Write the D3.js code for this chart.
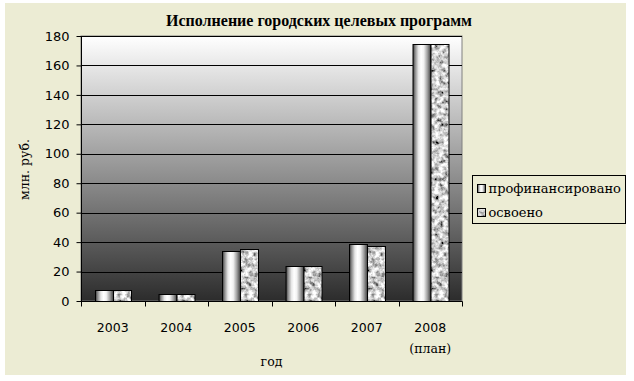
<!DOCTYPE html>
<html><head><meta charset="utf-8">
<script src="https://cdn.jsdelivr.net/npm/d3@7"></script>
<style>html,body{margin:0;padding:0;background:#fff;}svg{display:block;}</style>
</head><body>
<script>
const title = "Исполнение городских целевых программ";
const categories = ["2003","2004","2005","2006","2007","2008"];
const categorySubLabels = ["","","","","","(план)"];
const seriesNames = ["профинансировано","освоено"];
const financed = [7.3, 4.5, 33.7, 23.8, 38.5, 174.5];
const mastered = [7.3, 4.5, 35.1, 23.8, 37.3, 174.5];
const yTicks = [0,20,40,60,80,100,120,140,160,180];
const yTitle = "млн. руб.";
const xTitle = "год";

const W = 634, H = 381;
const plot = {l:81, r:462, t:36, b:301};
const svg = d3.select("body").append("svg").attr("width",W).attr("height",H);
const defs = svg.append("defs");

// cylinder gradient
const cyl = defs.append("linearGradient").attr("id","cyl").attr("x1","0").attr("x2","1").attr("y1","0").attr("y2","0");
[[0,"#3a3a3a"],[0.12,"#8c8c8c"],[0.3,"#e6e6e6"],[0.45,"#ffffff"],[0.6,"#f2f2f2"],[0.8,"#a0a0a0"],[1,"#3c3c3c"]]
  .forEach(([o,c])=>cyl.append("stop").attr("offset",o).attr("stop-color",c));
// plot background gradient
const bg = defs.append("linearGradient").attr("id","bgGrad").attr("x1","0").attr("x2","0").attr("y1","0").attr("y2","1");
[[0,"#ffffff"],[1,"#2c2c2c"]].forEach(([o,c])=>bg.append("stop").attr("offset",o).attr("stop-color",c));
// granite texture
const f = defs.append("filter").attr("id","granite").attr("x",0).attr("y",0).attr("width",1).attr("height",1)
  .attr("filterUnits","objectBoundingBox").attr("primitiveUnits","userSpaceOnUse");
f.append("feTurbulence").attr("type","fractalNoise").attr("baseFrequency","0.22").attr("numOctaves",3).attr("seed",7).attr("result","n");
f.append("feColorMatrix").attr("in","n").attr("type","matrix")
  .attr("values","1.9 0 0 0 -0.33  1.9 0 0 0 -0.33  1.9 0 0 0 -0.33  0 0 0 0 1").attr("result","g");
f.append("feComposite").attr("in","g").attr("in2","SourceAlpha").attr("operator","in");

// chart background
svg.append("rect").attr("x",5).attr("y",3).attr("width",621).attr("height",372).attr("fill","#ECECD4");

const y = d3.scaleLinear().domain([0,180]).range([plot.b, plot.t]);
const x0 = d3.scaleBand().domain(categories).range([plot.l, plot.r]).paddingInner(0).paddingOuter(0);
const barW = x0.bandwidth()/3.5;
const x1 = d3.scaleBand().domain(seriesNames).range([barW*0.75, barW*2.75]).padding(0);

// plot area
svg.append("rect").attr("x",plot.l).attr("y",plot.t).attr("width",plot.r-plot.l).attr("height",plot.b-plot.t)
  .attr("fill","url(#bgGrad)").attr("stroke","#808080").attr("stroke-width",1);

// gridlines
svg.append("g").selectAll("line").data(yTicks.filter(d=>d>0)).join("line")
  .attr("x1",plot.l).attr("x2",plot.r).attr("y1",d=>Math.round(y(d))+0.5).attr("y2",d=>Math.round(y(d))+0.5)
  .attr("stroke","#000").attr("stroke-width",1);

// bars
const data = categories.map((c,i)=>({c, vals:[financed[i], mastered[i]]}));
const groups = svg.append("g").selectAll("g").data(data).join("g").attr("transform",d=>`translate(${x0(d.c)},0)`);
groups.each(function(d){
  const g = d3.select(this);
  seriesNames.forEach((s,k)=>{
    const v = d.vals[k];
    const bx = Math.round(x1(s))+0.5, by = Math.round(y(v))+0.5, bw = Math.round(barW), bh = Math.round(y(0))-Math.round(y(v));
    if(k===0){
      g.append("rect").attr("x",bx).attr("y",by).attr("width",bw).attr("height",bh).attr("fill","url(#cyl)");
    } else {
      g.append("rect").attr("x",bx).attr("y",by).attr("width",bw).attr("height",bh).attr("fill","#000").attr("filter","url(#granite)");
    }
    g.append("rect").attr("x",bx).attr("y",by).attr("width",bw).attr("height",bh).attr("fill","none").attr("stroke","#000").attr("stroke-width",1);
  });
});

// axes
const yAxis = d3.axisLeft(y).tickValues(yTicks).tickSize(5).tickPadding(7);
const ya = svg.append("g").attr("transform",`translate(${plot.l+0.5},0)`).call(yAxis);
ya.select(".domain").attr("stroke","#000").attr("d",`M0,${plot.t}V${plot.b+0.5}`);
ya.selectAll(".tick line").attr("stroke","#000");
ya.selectAll("text").attr("font-family","DejaVu Sans").attr("font-size",13).attr("fill","#000");

const xa = svg.append("g").attr("transform",`translate(0,${plot.b+0.5})`);
xa.append("line").attr("x1",plot.l).attr("x2",plot.r+0.5).attr("stroke","#000");
xa.selectAll(".tk").data(categories.concat(["end"])).join("line").attr("class","tk")
  .attr("x1",(d,i)=>Math.round(plot.l + i*x0.bandwidth())+0.5).attr("x2",(d,i)=>Math.round(plot.l + i*x0.bandwidth())+0.5)
  .attr("y1",0).attr("y2",5).attr("stroke","#000");
xa.selectAll(".lbl").data(categories).join("text").attr("class","lbl")
  .attr("x",d=>x0(d)+x0.bandwidth()/2).attr("y",30).attr("text-anchor","middle")
  .attr("font-family","DejaVu Sans").attr("font-size",12.5).text(d=>d);
xa.selectAll(".sub").data(categories).join("text").attr("class","sub")
  .attr("x",d=>x0(d)+x0.bandwidth()/2).attr("y",51).attr("text-anchor","middle")
  .attr("font-family","DejaVu Serif").attr("font-size",12.5).text((d,i)=>categorySubLabels[i]);

// titles
svg.append("text").attr("x",319).attr("y",26).attr("text-anchor","middle")
  .attr("font-family","Liberation Serif").attr("font-weight","bold").attr("font-size",16).text(title);
svg.append("text").attr("x",(plot.l+plot.r)/2).attr("y",366).attr("text-anchor","middle")
  .attr("font-family","DejaVu Serif").attr("font-size",12.5).text(xTitle);
svg.append("text").attr("transform",`translate(29,${(plot.t+plot.b)/2+1}) rotate(-90)`).attr("text-anchor","middle")
  .attr("font-family","DejaVu Serif").attr("font-size",12.5).text(yTitle);

// legend
const lg = svg.append("g").attr("transform","translate(472.5,175.5)");
lg.append("rect").attr("width",153).attr("height",48).attr("fill","#ECECD4").attr("stroke","#000");
seriesNames.forEach((s,k)=>{
  const yy = 13 + k*24;
  if(k===0) lg.append("rect").attr("x",5).attr("y",yy-4).attr("width",8).attr("height",8).attr("fill","url(#cyl)");
  else lg.append("rect").attr("x",5).attr("y",yy-4).attr("width",8).attr("height",8).attr("fill","#000").attr("filter","url(#granite)");
  lg.append("rect").attr("x",5).attr("y",yy-4).attr("width",8).attr("height",8).attr("fill","none").attr("stroke","#000");
  lg.append("text").attr("x",16).attr("y",yy+4.5).attr("font-family","DejaVu Serif").attr("font-size",13).text(s);
});
</script>
</body></html>
